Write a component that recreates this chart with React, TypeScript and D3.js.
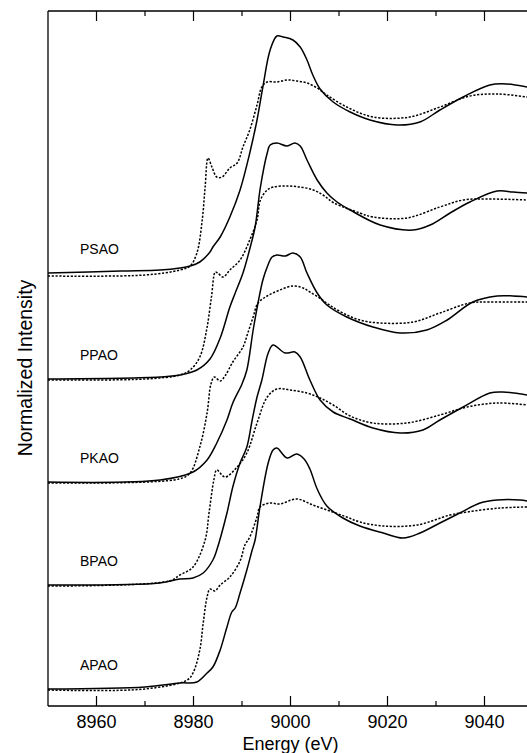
import React from 'react';
import * as d3 from 'd3';

// energy (eV), normalized intensity (before offset)
const psaoSolid = [
  [8950, 0.0], [8965, 0.02], [8973.1, 0.03], [8977.2, 0.05], [8979.3, 0.07], [8981.3, 0.11],
  [8983.4, 0.21], [8984.0, 0.26], [8985.5, 0.36], [8987.5, 0.56], [8989.6, 0.83], [8991.6, 1.2],
  [8993.1, 1.53], [8994.3, 1.86], [8995.8, 2.23], [8997.2, 2.37], [8998.5, 2.36], [9000.5, 2.33],
  [9002.0, 2.26], [9003.4, 2.13], [9004.6, 1.98], [9006.1, 1.84], [9008.8, 1.71], [9012.3, 1.61],
  [9016.4, 1.53], [9022.0, 1.48], [9026.7, 1.51], [9030.8, 1.63], [9035.6, 1.76],
  [9041.1, 1.88], [9044.6, 1.89], [9048.8, 1.86],
];
const psaoDotted = [
  [8950, -0.03], [8970, -0.02], [8977.2, 0.03], [8979.3, 0.07], [8980.7, 0.2], [8981.8, 0.53],
  [8982.4, 0.86], [8983.0, 1.15], [8983.8, 1.06], [8984.8, 0.96], [8985.9, 0.96], [8987.5, 1.05],
  [8989.0, 1.1], [8990.2, 1.26], [8991.6, 1.43], [8993.1, 1.68], [8994.1, 1.86], [8995.2, 1.91],
  [8997.2, 1.91], [8999.3, 1.93], [9001.3, 1.92], [9003.4, 1.9], [9005.5, 1.85], [9007.5, 1.78],
  [9011.6, 1.66], [9017.0, 1.56], [9024.6, 1.56], [9030.8, 1.66], [9037.0, 1.77], [9042.6, 1.79],
  [9048.8, 1.76],
];
const ppaoSolid = [
  [8950, 0.0], [8973.1, 0.02], [8977.2, 0.04], [8980.7, 0.09], [8983.4, 0.2], [8985.5, 0.41],
  [8987.5, 0.72], [8988.6, 0.86], [8990.2, 1.06], [8991.6, 1.3], [8992.7, 1.52], [8993.8, 1.92],
  [8995.2, 2.26], [8995.8, 2.34], [8997.2, 2.36], [8999.3, 2.33], [9000.9, 2.36], [9002.0, 2.33],
  [9003.4, 2.19], [9005.5, 1.99], [9007.5, 1.86], [9009.6, 1.77], [9012.3, 1.69], [9018.5, 1.54],
  [9025.3, 1.49], [9028.8, 1.54], [9032.9, 1.66], [9037.0, 1.77], [9042.6, 1.88], [9045.9, 1.87],
  [9048.8, 1.86],
];
const ppaoDotted = [
  [8950, -0.01], [8970, 0.0], [8977.2, 0.04], [8979.3, 0.09], [8981.3, 0.22], [8982.7, 0.49],
  [8983.7, 0.82], [8984.5, 1.07], [8985.0, 1.06], [8986.1, 1.02], [8987.5, 1.09], [8989.6, 1.19],
  [8991.6, 1.39], [8993.1, 1.59], [8993.8, 1.79], [8995.2, 1.89], [8996.5, 1.92], [8999.3, 1.93],
  [9002.0, 1.92], [9004.7, 1.89], [9006.7, 1.84], [9009.0, 1.76], [9014.3, 1.66], [9017.0, 1.62],
  [9024.0, 1.61], [9030.8, 1.72], [9035.6, 1.79], [9040.5, 1.8], [9048.8, 1.79],
];
const pkaoSolid = [
  [8950, 0.0], [8973.1, 0.02], [8979.9, 0.1], [8982.8, 0.22], [8984.8, 0.39], [8986.9, 0.62],
  [8988.1, 0.79], [8990.0, 0.98], [8991.0, 1.12], [8992.3, 1.52], [8993.3, 1.79], [8994.3, 2.02],
  [8995.2, 2.15], [8996.2, 2.25], [8997.2, 2.27], [8998.9, 2.26], [9000.5, 2.29], [9002.0, 2.25],
  [9003.4, 2.09], [9005.5, 1.89], [9007.5, 1.77], [9011.6, 1.65], [9017.0, 1.55],
  [9022.6, 1.49], [9028.1, 1.52], [9032.3, 1.62], [9037.6, 1.8], [9042.6, 1.86], [9045.9, 1.86],
  [9048.8, 1.85],
];
const pkaoDotted = [
  [8950, -0.01], [8977.0, 0.03], [8979.3, 0.09], [8981.3, 0.35], [8982.8, 0.69], [8983.6, 0.98],
  [8984.3, 1.05], [8985.5, 1.01], [8986.5, 1.06], [8988.1, 1.2], [8990.2, 1.35], [8991.2, 1.49],
  [8992.3, 1.65], [8993.3, 1.79], [8995.2, 1.86], [8997.8, 1.92], [9000.5, 1.96], [9002.6, 1.94],
  [9004.0, 1.9], [9006.0, 1.84], [9008.0, 1.77], [9010.8, 1.69], [9014.3, 1.62], [9018.5, 1.59],
  [9025.3, 1.6], [9030.8, 1.69], [9037.0, 1.79], [9041.1, 1.8], [9048.8, 1.8],
];
const bpaoSolid = [
  [8950, 0.0], [8973.0, 0.02], [8977.2, 0.06], [8979.9, 0.07], [8982.0, 0.12], [8984.0, 0.25],
  [8984.8, 0.35], [8986.9, 0.72], [8988.1, 0.98], [8989.6, 1.22], [8991.0, 1.38], [8992.1, 1.65],
  [8993.1, 1.88], [8994.1, 2.05], [8995.4, 2.32], [8996.4, 2.4], [8998.9, 2.32], [9000.9, 2.33],
  [9002.0, 2.28], [9004.0, 2.05], [9006.1, 1.85], [9008.8, 1.73], [9012.3, 1.66],
  [9017.0, 1.57], [9022.6, 1.52], [9027.3, 1.55], [9030.8, 1.65], [9035.6, 1.78], [9041.1, 1.92],
  [9043.8, 1.93], [9048.8, 1.9],
];
const bpaoDotted = [
  [8950, -0.01], [8975.0, 0.04], [8977.2, 0.1], [8979.9, 0.18], [8982.4, 0.45], [8983.2, 0.72],
  [8984.2, 1.05], [8984.8, 1.15], [8986.5, 1.08], [8989.0, 1.18], [8991.0, 1.32], [8993.1, 1.62],
  [8995.2, 1.88], [8997.2, 1.96], [8999.9, 1.95], [9003.4, 1.92], [9006.1, 1.87], [9008.8, 1.8],
  [9012.3, 1.69], [9017.0, 1.62], [9024.0, 1.62], [9030.8, 1.7], [9036.4, 1.78],
  [9042.6, 1.82], [9048.8, 1.8],
];
const apaoSolid = [
  [8950, 0.0], [8970.0, 0.02], [8977.2, 0.06], [8980.7, 0.07], [8982.8, 0.16], [8984.0, 0.22],
  [8985.5, 0.39], [8986.9, 0.62], [8987.9, 0.77], [8988.6, 0.81], [8989.6, 0.96], [8991.0, 1.19],
  [8992.1, 1.39], [8992.7, 1.49], [8993.7, 1.82], [8995.4, 2.26], [8996.4, 2.39], [8997.2, 2.41],
  [8999.3, 2.31], [9001.3, 2.35], [9002.8, 2.3], [9004.0, 2.2], [9005.5, 2.0], [9007.5, 1.83],
  [9010.8, 1.71], [9014.3, 1.63], [9019.1, 1.56], [9023.2, 1.51], [9026.7, 1.56], [9030.8, 1.66],
  [9034.9, 1.76], [9039.1, 1.86], [9042.6, 1.89], [9047.3, 1.89], [9048.8, 1.88],
];
const apaoDotted = [
  [8950, -0.01], [8970.0, 0.0], [8978.7, 0.09], [8979.9, 0.16], [8981.3, 0.39], [8982.0, 0.66],
  [8982.8, 0.92], [8983.4, 1.0], [8984.4, 0.98], [8985.5, 1.04], [8987.5, 1.12], [8989.6, 1.28],
  [8990.6, 1.44], [8991.6, 1.52], [8993.1, 1.72], [8993.7, 1.82], [8995.8, 1.86], [8997.8, 1.85],
  [9001.3, 1.9], [9004.6, 1.84], [9008.1, 1.78], [9011.6, 1.72], [9014.3, 1.67], [9019.1, 1.63],
  [9026.1, 1.64], [9032.9, 1.74], [9036.4, 1.77], [9043.2, 1.81], [9048.8, 1.82],
];

const sampleNames = ['APAO', 'BPAO', 'PKAO', 'PPAO', 'PSAO'];
const sampleOffsets = [0.17, 1.21, 2.24, 3.27, 4.33];
const solidSeries = [apaoSolid, bpaoSolid, pkaoSolid, ppaoSolid, psaoSolid];
const dottedSeries = [apaoDotted, bpaoDotted, pkaoDotted, ppaoDotted, psaoDotted];

const majorTicks = [8960, 8980, 9000, 9020, 9040];
const minorTicks = [8970, 8990, 9010, 9030];

const App = () => {
  const margin = { top: 11, left: 48 };
  const plotBottom = 706;
  const font = '"Liberation Sans", Arial, Helvetica, sans-serif';

  const x = d3.scaleLinear().domain([8950, 9050]).range([margin.left, margin.left + 485]);
  const y = d3.scaleLinear().domain([0, 6.95]).range([plotBottom, margin.top]);

  // centripetal Catmull-Rom keeps the traces smooth without looping
  const line = (offset) =>
    d3
      .line()
      .x((d) => x(d[0]))
      .y((d) => y(d[1] + offset))
      .curve(d3.curveCatmullRom.alpha(0.5));

  return (
    <svg
      width={527}
      height={753}
      style={{ position: 'fixed', top: 0, left: 0, background: '#fff' }}
    >
      <defs>
        <clipPath id="plot">
          <rect x={margin.left} y={margin.top} width={490} height={plotBottom - margin.top} />
        </clipPath>
      </defs>

      {/* frame */}
      <g stroke="#000" strokeWidth={1.3} fill="none">
        <line x1={margin.left} x2={margin.left} y1={margin.top} y2={plotBottom} />
        <line x1={margin.left} x2={540} y1={margin.top} y2={margin.top} />
        <line x1={margin.left} x2={540} y1={plotBottom} y2={plotBottom} />
      </g>

      {/* ticks, pointing inward */}
      <g stroke="#000" strokeWidth={1.2}>
        {majorTicks.map((t) => (
          <g key={'M' + t}>
            <line x1={x(t)} x2={x(t)} y1={plotBottom} y2={plotBottom - 10} />
            <line x1={x(t)} x2={x(t)} y1={margin.top} y2={margin.top + 10} />
          </g>
        ))}
        {minorTicks.map((t) => (
          <g key={'m' + t}>
            <line x1={x(t)} x2={x(t)} y1={plotBottom} y2={plotBottom - 5} />
            <line x1={x(t)} x2={x(t)} y1={margin.top} y2={margin.top + 5} />
          </g>
        ))}
      </g>

      <g fontFamily={font} fontSize={18} textAnchor="middle" fill="#000">
        {majorTicks.map((t) => (
          <text key={t} x={x(t)} y={728}>
            {t}
          </text>
        ))}
        <text x={x(9000)} y={750}>
          Energy (eV)
        </text>
        <text transform="translate(32,368) rotate(-90)" fontSize={19.5}>
          Normalized Intensity
        </text>
      </g>

      <g clipPath="url(#plot)" fill="none" stroke="#000">
        {solidSeries.map((s, i) => (
          <path key={'s' + i} d={line(sampleOffsets[i])(s)} strokeWidth={1.5} />
        ))}
        {dottedSeries.map((s, i) => (
          <path
            key={'d' + i}
            d={line(sampleOffsets[i])(s)}
            strokeWidth={1.5}
            strokeDasharray="2.2 1.6"
          />
        ))}
      </g>

      <g fontFamily={font} fontSize={14} fill="#000">
        {sampleNames.map((n, i) => (
          <text key={n} x={80} y={y(sampleOffsets[i] + 0.19)}>
            {n}
          </text>
        ))}
      </g>
    </svg>
  );
};

export default App;
